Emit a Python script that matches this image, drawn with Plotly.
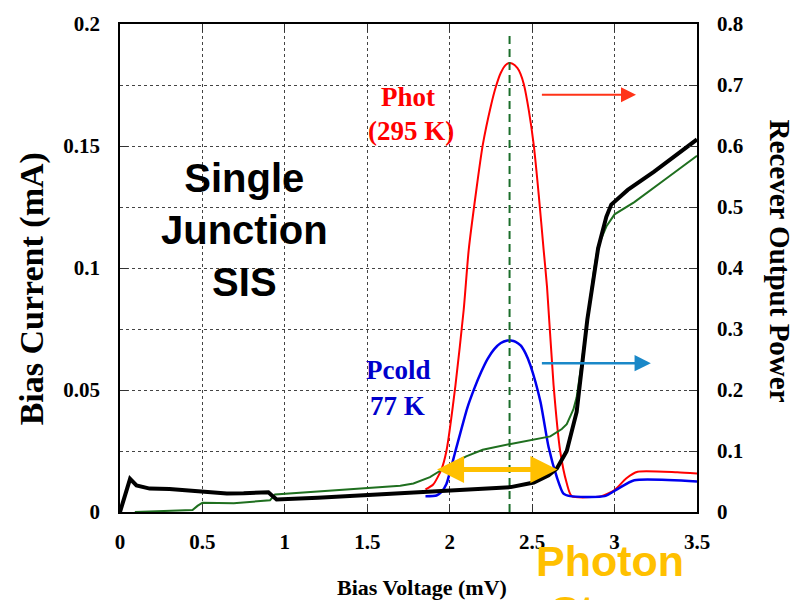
import plotly.graph_objects as go

# ---- data ----
black_v = [0, 0.061, 0.10, 0.18, 0.30, 0.40, 0.486, 0.55, 0.648, 0.75, 0.88, 0.90, 0.92, 0.95, 1.2, 1.5,
           1.70, 1.9, 2.1, 2.37, 2.51, 2.60, 2.65, 2.71, 2.77, 2.835, 2.90, 2.95, 2.98, 3.08, 3.24, 3.40, 3.50]
black_i = [0, 0.0136, 0.0109, 0.0096, 0.0094, 0.0088, 0.0083, 0.0083, 0.0076, 0.0077, 0.0082, 0.0081, 0.0069, 0.0051,
           0.0058, 0.0069, 0.0078, 0.0086, 0.0093, 0.0102, 0.0121, 0.0150, 0.0178, 0.025, 0.041, 0.079, 0.108,
           0.121, 0.126, 0.132, 0.1395, 0.1476, 0.1527]

green_v = [0.09, 0.30, 0.44, 0.47, 0.50, 0.69, 0.91, 0.94, 1.2, 1.5, 1.70, 1.78, 1.88, 1.94, 2.0, 2.1, 2.2,
           2.37, 2.61, 2.68, 2.71, 2.75, 2.77, 2.80, 2.835, 2.875, 2.90, 2.95, 3.0, 3.12, 3.32, 3.50]
green_i = [0.0, 0.0004, 0.0008, 0.0025, 0.0038, 0.0036, 0.0048, 0.0072, 0.0085, 0.0097, 0.0108, 0.0117, 0.0143,
           0.0168, 0.0192, 0.0228, 0.0255, 0.0279, 0.031, 0.034, 0.036, 0.042, 0.047, 0.061, 0.079, 0.099,
           0.109, 0.117, 0.122, 0.127, 0.137, 0.146]

phot_v = [1.853, 1.90, 1.95, 1.98, 2.035, 2.085, 2.115, 2.16, 2.20, 2.25, 2.28, 2.31, 2.34, 2.36, 2.38, 2.41,
          2.43, 2.45, 2.48, 2.51, 2.54, 2.57, 2.59, 2.63, 2.67, 2.71, 2.74, 2.92, 3.0, 3.07, 3.14, 3.38, 3.50]
phot_p = [0.037, 0.045, 0.070, 0.100, 0.208, 0.332, 0.429, 0.525, 0.601, 0.666, 0.697, 0.720, 0.733, 0.736,
          0.735, 0.728, 0.718, 0.701, 0.658, 0.601, 0.520, 0.429, 0.370, 0.208, 0.100, 0.047, 0.026, 0.026,
          0.036, 0.055, 0.066, 0.065, 0.063]

pcold_v = [1.853, 1.92, 1.95, 1.98, 2.035, 2.106, 2.15, 2.19, 2.23, 2.27, 2.31, 2.35, 2.37, 2.40, 2.43, 2.46,
           2.49, 2.55, 2.60, 2.65, 2.69, 2.73, 2.94, 3.02, 3.12, 3.50]
pcold_p = [0.026, 0.027, 0.033, 0.046, 0.100, 0.170, 0.203, 0.229, 0.251, 0.267, 0.277, 0.281, 0.281, 0.279,
           0.273, 0.260, 0.240, 0.181, 0.106, 0.057, 0.030, 0.026, 0.026, 0.038, 0.052, 0.050]

peak_v = [2.363, 2.363]
peak_i = [0.0, 0.1955]

x_ticks = [0, 0.5, 1, 1.5, 2, 2.5, 3, 3.5]
x_ticklabels = ["0", "0.5", "1", "1.5", "2", "2.5", "3", "3.5"]
i_ticks = [0, 0.05, 0.1, 0.15, 0.2]
i_ticklabels = ["0", "0.05", "0.1", "0.15", "0.2"]
p_ticks = [0, 0.1, 0.2, 0.3, 0.4, 0.5, 0.6, 0.7, 0.8]
p_ticklabels = ["0", "0.1", "0.2", "0.3", "0.4", "0.5", "0.6", "0.7", "0.8"]

SERIF = "Liberation Serif"
SANS = "Liberation Sans"
tickfont = dict(family=SERIF, size=21, color="black", weight="bold")

fig = go.Figure()
# power traces on primary (right) axis y
fig.add_trace(go.Scatter(x=phot_v, y=phot_p, mode="lines", line=dict(color="#ff0000", width=2, shape="spline", smoothing=0.6), yaxis="y"))
fig.add_trace(go.Scatter(x=pcold_v, y=pcold_p, mode="lines", line=dict(color="#0000ee", width=2.5, shape="spline", smoothing=0.6), yaxis="y"))
# current traces on left axis y2 (drawn on top)
fig.add_trace(go.Scatter(x=peak_v, y=peak_i, mode="lines",
                         line=dict(color="#1a6e2a", width=2, dash="8px,5px"), yaxis="y2"))
fig.add_trace(go.Scatter(x=green_v, y=green_i, mode="lines", line=dict(color="#1f6f1f", width=2), yaxis="y2"))
fig.add_trace(go.Scatter(x=black_v, y=black_i, mode="lines", line=dict(color="black", width=4), yaxis="y2"))

grid = dict(showgrid=True, gridcolor="#444444", gridwidth=1, griddash="3px,3px")

fig.update_layout(
    width=795, height=600,
    margin=dict(l=120, r=98, t=17, b=88),
    paper_bgcolor="white", plot_bgcolor="white",
    showlegend=False,
    xaxis=dict(range=[0, 3.5], tickvals=x_ticks, ticktext=x_ticklabels, ticks="inside", ticklen=8,
               tickcolor="#333", showline=True, linecolor="black", linewidth=1.5, mirror="ticks",
               zeroline=False, tickfont=tickfont, ticklabelstandoff=10, **grid),
    yaxis=dict(range=[0, 0.8], tickvals=p_ticks, ticktext=p_ticklabels, side="right", ticks="inside",
               ticklen=8, tickcolor="#333", showline=True, linecolor="black", linewidth=1.5,
               zeroline=False, tickfont=tickfont, ticklabelstandoff=14, **grid),
    yaxis2=dict(range=[0, 0.2], tickvals=i_ticks, ticktext=i_ticklabels, side="left", overlaying="y",
                ticks="inside", ticklen=8, tickcolor="#333", showline=True, linecolor="black", linewidth=1.5,
                zeroline=False, showgrid=False, tickfont=tickfont, ticklabelstandoff=14),
)

anns = []
# axis titles
anns.append(dict(text="Bias Current (mA)", xref="paper", yref="paper", x=-0.151, y=0.458, textangle=-90,
                 xanchor="center", yanchor="middle",
                 showarrow=False, font=dict(family=SERIF, size=34, color="black", weight="bold")))
anns.append(dict(text="Recever Output Power", xref="paper", yref="paper", x=1.144, y=0.515, textangle=90,
                 xanchor="center", yanchor="middle",
                 showarrow=False, font=dict(family=SERIF, size=29, color="black", weight="bold")))
anns.append(dict(text="Bias Voltage (mV)", xref="paper", yref="paper", x=0.5234, y=-0.1555,
                 xanchor="center", yanchor="middle",
                 showarrow=False, font=dict(family=SERIF, size=22, color="black", weight="bold")))
# labels
anns.append(dict(text="Single<br>Junction<br>SIS", xref="x", yref="y2", x=0.753, y=0.1155,
                 showarrow=False, font=dict(family=SANS, size=40, color="black", weight="bold")))
anns.append(dict(text="Phot", xref="x", yref="y2", x=1.744, y=0.1700, showarrow=False,
                 font=dict(family=SERIF, size=27, color="#ff0000", weight="bold")))
anns.append(dict(text="(295 K)", xref="x", yref="y2", x=1.768, y=0.1560, showarrow=False,
                 font=dict(family=SERIF, size=27, color="#ff0000", weight="bold")))
anns.append(dict(text="Pcold", xref="x", yref="y2", x=1.689, y=0.0582, showarrow=False,
                 font=dict(family=SERIF, size=27, color="#0000cc", weight="bold")))
anns.append(dict(text="77 K", xref="x", yref="y2", x=1.683, y=0.0436, showarrow=False,
                 font=dict(family=SERIF, size=27, color="#0000cc", weight="bold")))
anns.append(dict(text="Photon", xref="x", yref="paper", x=2.97, y=-0.0465, yanchor="top",
                 showarrow=False, font=dict(family=SANS, size=43, color="#ffc000", weight="bold")))
anns.append(dict(text="Steps", xref="x", yref="paper", x=2.97, y=-0.149, yanchor="top",
                 showarrow=False, font=dict(family=SANS, size=43, color="#ffc000", weight="bold")))
# arrows
anns.append(dict(text="", xref="x", yref="y", axref="x", ayref="y", x=3.13, y=0.684, ax=2.55, ay=0.684,
                 showarrow=True, arrowhead=2, arrowwidth=2, arrowsize=1.5, arrowcolor="#ff3318",
                 standoff=0, startstandoff=0))
anns.append(dict(text="", xref="x", yref="y", axref="x", ayref="y", x=3.22, y=0.244, ax=2.55, ay=0.244,
                 showarrow=True, arrowhead=2, arrowwidth=2.5, arrowsize=1.3, arrowcolor="#1a88c8",
                 standoff=0, startstandoff=0))
anns.append(dict(text="", xref="x", yref="y2", axref="x", ayref="y2", x=2.653, y=0.0174, ax=1.914, ay=0.0174,
                 showarrow=True, arrowhead=2, arrowside="end+start", arrowwidth=5, arrowsize=1.08,
                 arrowcolor="#ffc000", standoff=0, startstandoff=0))
fig.update_layout(annotations=anns)

fig.write_html("out.html")
